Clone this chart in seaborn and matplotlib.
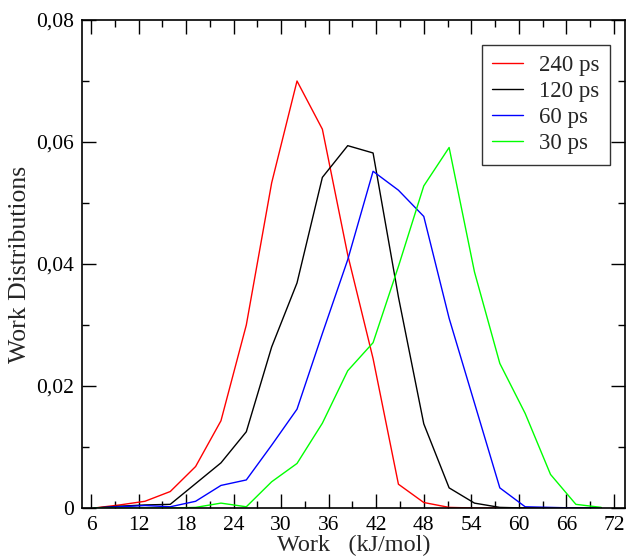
import numpy as np
import pandas as pd
import matplotlib
matplotlib.use("Agg")
import matplotlib.pyplot as plt
import seaborn as sns
from matplotlib.ticker import MultipleLocator, FuncFormatter

work = [6.4, 9.6, 12.8, 16.0, 19.2, 22.4, 25.6, 28.8, 32.0, 35.2, 38.4,
        41.6, 44.8, 48.0, 51.2, 54.4, 57.6, 60.8, 64.0, 67.2, 70.4]
ps240 = [0.0, 0.0005, 0.0011, 0.0027, 0.0068, 0.0143, 0.0300, 0.0533, 0.0700, 0.0621, 0.0415,
         0.0245, 0.0039, 0.0009, 0.0001, 0.0, 0.0, 0.0, 0.0, 0.0, 0.0]
ps120 = [0.0, 0.0003, 0.0005, 0.0006, 0.0040, 0.0074, 0.0125, 0.0264, 0.0369, 0.0542, 0.0594,
         0.0582, 0.0346, 0.0138, 0.0033, 0.0008, 0.0001, 0.0, 0.0, 0.0, 0.0]
ps60 = [0.0, 0.0002, 0.0004, 0.0002, 0.0011, 0.0037, 0.0046, 0.0103, 0.0162, 0.0286, 0.0407,
        0.0552, 0.0521, 0.0478, 0.0311, 0.0172, 0.0033, 0.0002, 0.0001, 0.0, 0.0]
ps30 = [0.0, 0.0, 0.0, 0.0, 0.0001, 0.0008, 0.0002, 0.0043, 0.0073, 0.0139, 0.0225,
        0.0271, 0.0396, 0.0528, 0.0591, 0.0387, 0.0237, 0.0155, 0.0055, 0.0006, 0.0001]
labels = ["240 ps", "120 ps", "60 ps", "30 ps"]
colors = ["#ff0000", "#000000", "#0000ff", "#00ff00"]

frames = []
for lab, vals in zip(labels, [ps240, ps120, ps60, ps30]):
    frames.append(pd.DataFrame({"Work": work, "Dist": vals, "Series": lab}))
df = pd.concat(frames, ignore_index=True)

sns.set_style("ticks")
plt.rcParams['font.family'] = ['Liberation Serif', 'DejaVu Serif']

fig = plt.figure(figsize=(6.26, 5.59), dpi=100)
ax = fig.add_axes([82/626, 51/559, 543/626, 488/559])

sns.lineplot(data=df, x="Work", y="Dist", hue="Series", hue_order=labels,
             palette=colors, linewidth=1.0, ax=ax, legend=True)

ax.set_xlim(4.86, 73.4)
ax.set_ylim(0, 0.08)
ax.xaxis.set_major_locator(MultipleLocator(6))
ax.xaxis.set_minor_locator(MultipleLocator(3))
ax.yaxis.set_major_locator(MultipleLocator(0.02))
ax.yaxis.set_minor_locator(MultipleLocator(0.01))

def yfmt(v, pos):
    if abs(v) < 1e-12:
        return "0"
    return f"{v:.2f}".replace(".", ",")
ax.yaxis.set_major_formatter(FuncFormatter(yfmt))

ax.tick_params(which="both", direction="in", top=True, right=True, width=1.0,
               labelsize=15.5, colors="black")
ax.tick_params(which="major", length=10, pad=6)
ax.tick_params(which="minor", length=5)
for s in ax.spines.values():
    s.set_linewidth(1.2)
    s.set_color("black")

ax.set_xlabel("Work   (kJ/mol)", fontsize=17.5, labelpad=0)
ax.set_ylabel("Work Distributions", fontsize=18.5, labelpad=3)

leg = ax.legend(loc="upper right", bbox_to_anchor=(0.972, 0.949), borderaxespad=0,
                fontsize=16.5, frameon=True, fancybox=False, handlelength=1.35,
                handletextpad=0.7, borderpad=0.45, labelspacing=0.22, title=None)
leg.get_frame().set_edgecolor("black")
leg.get_frame().set_linewidth(1.0)

fig.savefig("out.png", dpi=100)
